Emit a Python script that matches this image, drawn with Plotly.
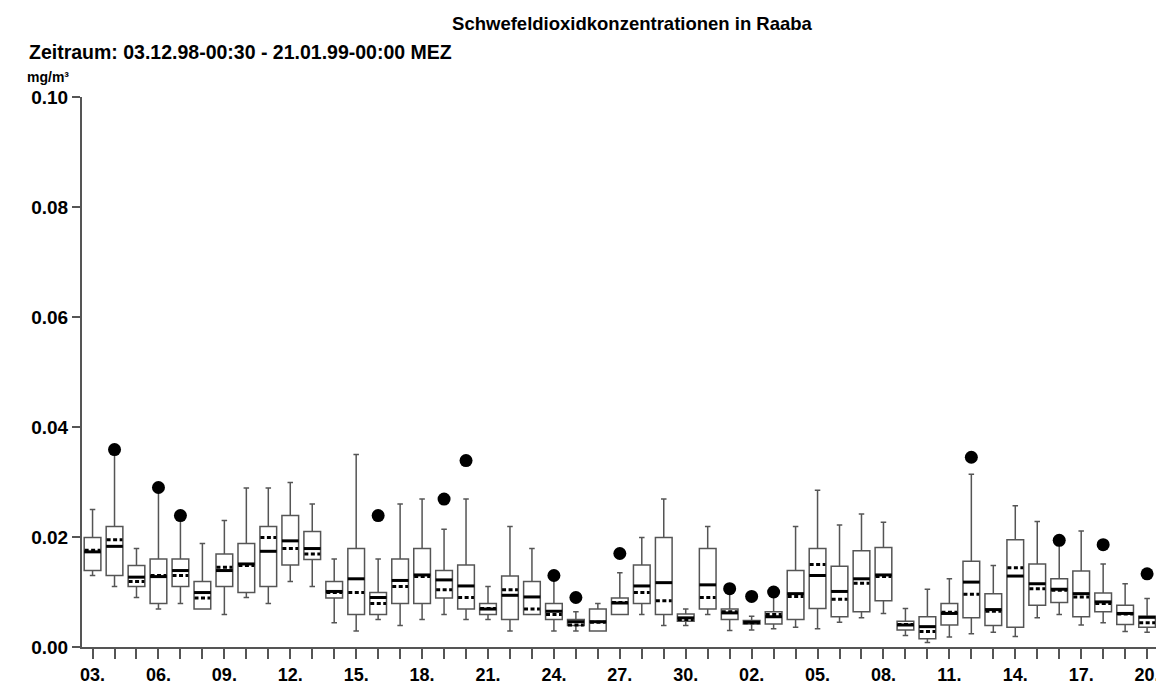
import plotly.graph_objects as go

# ---- data (mg/m³) ----
dates = ["03.", "04.", "05.", "06.", "07.", "08.", "09.", "10.", "11.", "12.",
         "13.", "14.", "15.", "16.", "17.", "18.", "19.", "20.", "21.", "22.",
         "23.", "24.", "25.", "26.", "27.", "28.", "29.", "30.", "31.", "01.",
         "02.", "03.", "04.", "05.", "06.", "07.", "08.", "09.", "10.", "11.",
         "12.", "13.", "14.", "15.", "16.", "17.", "18.", "19.", "20."]

tick_every = 3
tick_labels = ["03.", "06.", "09.", "12.", "15.", "18.", "21.", "24.", "27.",
               "30.", "02.", "05.", "08.", "11.", "14.", "17.", "20."]

upper_whisker = [0.0250, 0.0359, 0.0179, 0.0290, 0.0239, 0.0188, 0.0230, 0.0289, 0.0289, 0.0299,
                 0.0260, 0.0160, 0.0350, 0.0160, 0.0260, 0.0269, 0.0214, 0.0269, 0.0110, 0.0219,
                 0.0179, 0.0125, 0.0064, 0.0079, 0.0135, 0.0199, 0.0269, 0.0069, 0.0219, 0.0106,
                 0.0056, 0.0100, 0.0219, 0.0285, 0.0222, 0.0242, 0.0227, 0.0070, 0.0105, 0.0124,
                 0.0314, 0.0148, 0.0257, 0.0228, 0.0194, 0.0211, 0.0151, 0.0115, 0.0088]

q3 = [0.0199, 0.0219, 0.0148, 0.0160, 0.0160, 0.0119, 0.0169, 0.0188, 0.0219, 0.0239,
      0.0210, 0.0119, 0.0179, 0.0099, 0.0160, 0.0179, 0.0139, 0.0149, 0.0079, 0.0129,
      0.0119, 0.0079, 0.0050, 0.0069, 0.0089, 0.0149, 0.0199, 0.0060, 0.0179, 0.0069,
      0.0048, 0.0064, 0.0139, 0.0179, 0.0147, 0.0175, 0.0181, 0.0047, 0.0055, 0.0079,
      0.0156, 0.0097, 0.0195, 0.0151, 0.0124, 0.0138, 0.0098, 0.0076, 0.0056]

median = [0.0173, 0.0183, 0.0127, 0.0128, 0.0139, 0.0099, 0.0139, 0.0151, 0.0174, 0.0193,
          0.0179, 0.0101, 0.0124, 0.0090, 0.0121, 0.0131, 0.0122, 0.0111, 0.0069, 0.0094,
          0.0091, 0.0065, 0.0046, 0.0046, 0.0080, 0.0111, 0.0117, 0.0053, 0.0113, 0.0062,
          0.0045, 0.0055, 0.0097, 0.0130, 0.0101, 0.0124, 0.0131, 0.0040, 0.0037, 0.0061,
          0.0118, 0.0068, 0.0129, 0.0115, 0.0105, 0.0097, 0.0082, 0.0061, 0.0054]

mean = [0.0176, 0.0195, 0.0119, 0.0130, 0.0130, 0.0089, 0.0145, 0.0148, 0.0199, 0.0179,
        0.0169, 0.0099, 0.0099, 0.0079, 0.0110, 0.0128, 0.0104, 0.0090, 0.0070, 0.0104,
        0.0069, 0.0059, 0.0040, 0.0045, 0.0081, 0.0099, 0.0084, 0.0050, 0.0090, 0.0064,
        0.0044, 0.0059, 0.0092, 0.0150, 0.0087, 0.0116, 0.0128, 0.0041, 0.0028, 0.0063,
        0.0096, 0.0065, 0.0144, 0.0106, 0.0103, 0.0091, 0.0079, 0.0060, 0.0044]

q1 = [0.0139, 0.0130, 0.0110, 0.0079, 0.0110, 0.0069, 0.0110, 0.0099, 0.0110, 0.0149,
      0.0159, 0.0089, 0.0059, 0.0059, 0.0079, 0.0079, 0.0089, 0.0069, 0.0059, 0.0050,
      0.0059, 0.0050, 0.0039, 0.0029, 0.0059, 0.0079, 0.0059, 0.0047, 0.0069, 0.0050,
      0.0042, 0.0042, 0.0050, 0.0070, 0.0055, 0.0064, 0.0084, 0.0031, 0.0015, 0.0040,
      0.0053, 0.0039, 0.0036, 0.0076, 0.0081, 0.0055, 0.0064, 0.0041, 0.0036]

lower_whisker = [0.0130, 0.0110, 0.0090, 0.0069, 0.0079, 0.0069, 0.0059, 0.0090, 0.0079, 0.0119,
                 0.0110, 0.0044, 0.0029, 0.0050, 0.0039, 0.0050, 0.0059, 0.0050, 0.0050, 0.0029,
                 0.0059, 0.0029, 0.0029, 0.0029, 0.0059, 0.0059, 0.0039, 0.0039, 0.0059, 0.0030,
                 0.0031, 0.0033, 0.0036, 0.0033, 0.0045, 0.0053, 0.0061, 0.0021, 0.0008, 0.0018,
                 0.0024, 0.0027, 0.0019, 0.0053, 0.0059, 0.0040, 0.0044, 0.0028, 0.0027]

maxima = [None, 0.0359, None, 0.0290, 0.0239, None, None, None, None, None,
          None, None, None, 0.0239, None, None, 0.0269, 0.0339, None, None,
          None, 0.0130, 0.0090, None, 0.0170, None, None, None, None, 0.0106,
          0.0092, 0.0100, None, None, None, None, None, None, None, None,
          0.0345, None, None, None, 0.0194, None, 0.0186, None, 0.0133]

# ---- figure ----
pos = list(range(len(dates)))
BOX_W = 0.76
GREY = "#555555"
FONT = "Liberation Sans, Arial, sans-serif"

fig = go.Figure()

fig.add_trace(go.Box(
    x=pos, q1=q1, median=median, q3=q3,
    lowerfence=lower_whisker, upperfence=upper_whisker,
    width=BOX_W, whiskerwidth=0.33, fillcolor="white",
    line=dict(color=GREY, width=1.5), boxpoints=False, hoverinfo="skip",
))

mx, my, ax_, ay = [], [], [], []
for p, m, a in zip(pos, median, mean):
    mx += [p - BOX_W / 2, p + BOX_W / 2, None]
    my += [m, m, None]
    ax_ += [p - BOX_W / 2 + 0.02, p + BOX_W / 2 - 0.02, None]
    ay += [a, a, None]

fig.add_trace(go.Scatter(x=ax_, y=ay, mode="lines",
                         line=dict(color="black", width=3, dash="4px,2.5px"),
                         hoverinfo="skip"))
fig.add_trace(go.Scatter(x=mx, y=my, mode="lines",
                         line=dict(color="black", width=3), hoverinfo="skip"))

dx = [p for p, v in zip(pos, maxima) if v is not None]
dy = [v for v in maxima if v is not None]
fig.add_trace(go.Scatter(x=dx, y=dy, mode="markers",
                         marker=dict(color="black", size=13), hoverinfo="skip"))

fig.update_layout(
    template="none",
    width=1156, height=684,
    margin=dict(l=82, r=0, t=97, b=37),
    plot_bgcolor="white", paper_bgcolor="white",
    showlegend=False,
    font=dict(family=FONT, color="black"),
    title=dict(text="Schwefeldioxidkonzentrationen in Raaba",
               font=dict(size=18.5, weight="bold", family=FONT),
               x=632 / 1156, xanchor="center", xref="container",
               y=1 - 24 / 684, yanchor="middle", yref="container"),
    annotations=[
        dict(text="Zeitraum: 03.12.98-00:30 - 21.01.99-00:00 MEZ",
             xref="paper", yref="paper", x=-0.051, y=1.082,
             xanchor="left", yanchor="middle", showarrow=False,
             font=dict(size=19.5, weight="bold", family=FONT)),
        dict(text="mg/m³", xref="paper", yref="paper", x=-0.053, y=1.036,
             xanchor="left", yanchor="middle", showarrow=False,
             font=dict(size=14, weight="bold", family=FONT)),
    ],
)

fig.update_xaxes(
    range=[-0.48, 48.405], automargin=False,
    tickmode="array", tickvals=pos[::tick_every], ticktext=tick_labels,
    ticks="outside", ticklen=10, tickwidth=2, tickcolor=GREY,
    minor=dict(tickmode="linear", tick0=0, dtick=1, ticks="outside",
               ticklen=10, tickwidth=2, tickcolor=GREY),
    showline=True, linecolor=GREY, linewidth=2,
    showgrid=False, zeroline=False, ticklabeloverflow="allow",
    tickfont=dict(size=18, weight="bold", family=FONT, color="black"),
)
fig.update_yaxes(
    range=[0, 0.1], automargin=False,
    tickmode="linear", tick0=0, dtick=0.02, tickformat=".2f",
    ticks="outside", ticklen=8, tickwidth=2, tickcolor=GREY,
    showline=True, linecolor=GREY, linewidth=2,
    showgrid=False, zeroline=False,
    tickfont=dict(size=19, weight="bold", family=FONT, color="black"),
)

fig.write_html("out.html")
